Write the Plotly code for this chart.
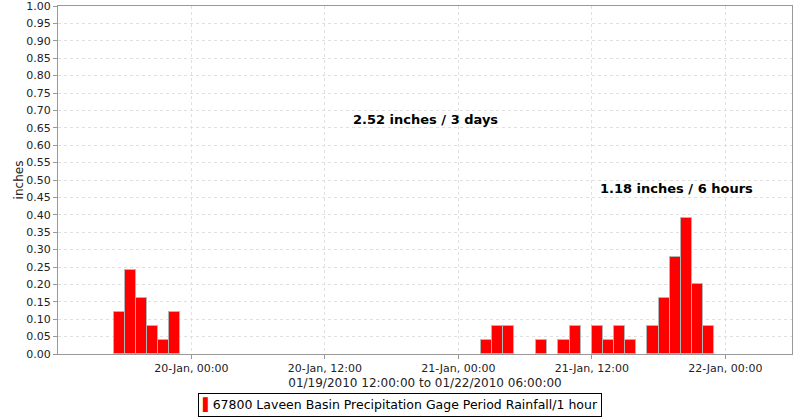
import plotly.graph_objects as go
import pandas as pd

# Hourly rainfall (inches); each bar covers one hour starting at the given time
hour_starts = [
    "2010-01-19 17:00", "2010-01-19 18:00", "2010-01-19 19:00", "2010-01-19 20:00",
    "2010-01-19 21:00", "2010-01-19 22:00",
    "2010-01-21 02:00", "2010-01-21 03:00", "2010-01-21 04:00",
    "2010-01-21 07:00",
    "2010-01-21 09:00", "2010-01-21 10:00",
    "2010-01-21 12:00", "2010-01-21 13:00", "2010-01-21 14:00", "2010-01-21 15:00",
    "2010-01-21 17:00", "2010-01-21 18:00", "2010-01-21 19:00", "2010-01-21 20:00",
    "2010-01-21 21:00", "2010-01-21 22:00",
]
rain_in = [
    0.12, 0.24, 0.16, 0.08, 0.04, 0.12,
    0.04, 0.08, 0.08,
    0.04,
    0.04, 0.08,
    0.08, 0.04, 0.08, 0.04,
    0.08, 0.16, 0.28, 0.39, 0.20, 0.08,
]

tick_vals = ["2010-01-20 00:00", "2010-01-20 12:00", "2010-01-21 00:00",
             "2010-01-21 12:00", "2010-01-22 00:00"]
tick_text = ["20-Jan, 00:00", "20-Jan, 12:00", "21-Jan, 00:00",
             "21-Jan, 12:00", "22-Jan, 00:00"]
x_range = ["2010-01-19 12:00", "2010-01-22 06:00"]

series_name = "67800 Laveen Basin Precipitation Gage Period Rainfall/1 hour"
notes = ["2.52 inches / 3 days", "1.18 inches / 6 hours"]

FONT = "DejaVu Sans"
HOUR_MS = 3600 * 1000

fig = go.Figure()
fig.add_trace(go.Bar(
    x=pd.to_datetime(hour_starts), y=rain_in,
    width=HOUR_MS, offset=0,
    marker=dict(color="#ff0000", line=dict(color="#b4b4b4", width=1)),
    name=series_name, showlegend=False,
))

fig.update_layout(
    width=800, height=420,
    margin=dict(l=58, r=8, t=6, b=66, autoexpand=False),
    paper_bgcolor="white", plot_bgcolor="white",
    font=dict(family=FONT, size=11, color="#333333"),
    bargap=0,
    xaxis=dict(
        range=pd.to_datetime(x_range), type="date", automargin=False,
        tickvals=pd.to_datetime(tick_vals), ticktext=tick_text,
        ticks="outside", ticklen=4, tickcolor="#999999",
        showline=True, linecolor="#999999", linewidth=1, mirror=True,
        showgrid=True, gridcolor="#e0e0e0", griddash="3px,3px", gridwidth=1,
        tickfont=dict(size=11, color="#222222"), ticklabeloverflow="allow",
        title=dict(text="01/19/2010 12:00:00 to 01/22/2010 06:00:00",
                   font=dict(size=12, color="#222222"), standoff=4),
        zeroline=False,
    ),
    yaxis=dict(
        range=[0, 1], dtick=0.05, tickformat=".2f", automargin=False,
        ticks="outside", ticklen=4, tickcolor="#999999",
        showline=True, linecolor="#999999", linewidth=1, mirror=True,
        showgrid=True, gridcolor="#e0e0e0", griddash="3px,3px", gridwidth=1,
        tickfont=dict(size=11, color="#222222"), ticklabeloverflow="allow",
        title=dict(text="inches", font=dict(size=12, color="#222222"), standoff=0),
        zeroline=False,
    ),
)

fig.add_annotation(x=0.5, y=0.673, xref="paper", yref="paper", xanchor="center", yanchor="middle",
                   text="<b>" + notes[0] + "</b>",
                   showarrow=False, font=dict(family=FONT, size=13, color="black"))
fig.add_annotation(x=0.843, y=0.477, xref="paper", yref="paper", xanchor="center", yanchor="middle",
                   text="<b>" + notes[1] + "</b>",
                   showarrow=False, font=dict(family=FONT, size=13, color="black"))

# Legend box
fig.add_annotation(x=0.466, y=-0.181, xref="paper", yref="paper", xanchor="center", yanchor="bottom",
                   text="<span style='color:#ff0000'>▌</span>" + series_name,
                   showarrow=False, font=dict(family=FONT, size=12.5, color="black"),
                   bordercolor="black", borderwidth=1, borderpad=3, bgcolor="white")

fig.write_html("out.html", config={"displayModeBar": False},
               post_script="document.body.style.margin='0px';")
